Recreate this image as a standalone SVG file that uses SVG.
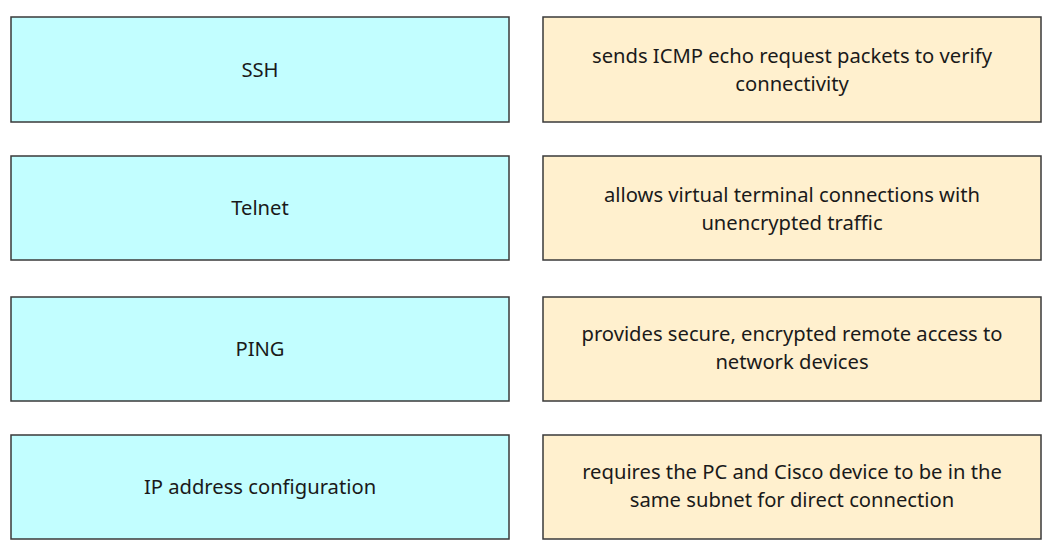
<svg xmlns="http://www.w3.org/2000/svg" width="1052" height="548" viewBox="0 0 1052 548">
<style>
.l{fill:#C2FEFF;stroke:#3a3a3a;stroke-width:1.5}
.r{fill:#FFF0CE;stroke:#3a3a3a;stroke-width:1.5}
text{font-family:"Noto Sans","Liberation Sans",sans-serif;font-size:20.2px;fill:#1a1a1a;text-anchor:middle}
</style>
<rect width="1052" height="548" fill="#ffffff"/>
<g id="n1"><rect class="l" x="11" y="17" width="498" height="105"/><text x="260" y="77">SSH</text></g>
<g id="n2"><rect class="l" x="11" y="156" width="498" height="104"/><text x="260" y="215">Telnet</text></g>
<g id="n3"><rect class="l" x="11" y="297" width="498" height="104"/><text x="260" y="356">PING</text></g>
<g id="n4"><rect class="l" x="11" y="435" width="498" height="104"/><text x="260" y="494">IP address configuration</text></g>
<g id="d1"><rect class="r" x="543" y="17" width="498" height="105"/><text x="792" y="63">sends ICMP echo request packets to verify</text><text x="792" y="91">connectivity</text></g>
<g id="d2"><rect class="r" x="543" y="156" width="498" height="104"/><text x="792" y="202">allows virtual terminal connections with</text><text x="792" y="230">unencrypted traffic</text></g>
<g id="d3"><rect class="r" x="543" y="297" width="498" height="104"/><text x="792" y="341">provides secure, encrypted remote access to</text><text x="792" y="369">network devices</text></g>
<g id="d4"><rect class="r" x="543" y="435" width="498" height="104"/><text x="792" y="479">requires the PC and Cisco device to be in the</text><text x="792" y="507">same subnet for direct connection</text></g>
<g id="connectors"></g>
</svg>
